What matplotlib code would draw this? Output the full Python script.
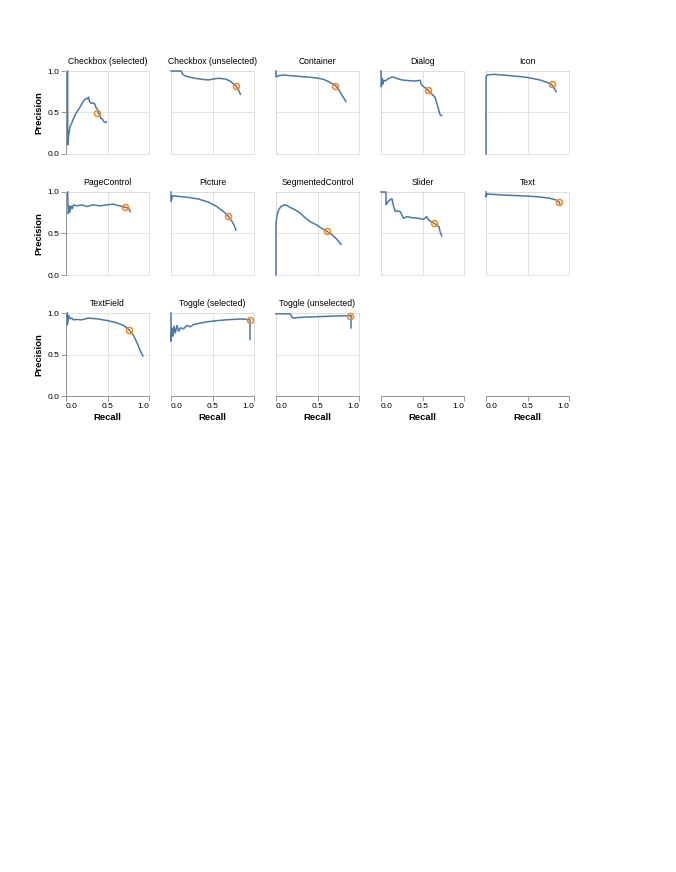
import matplotlib
matplotlib.use("Agg")
import matplotlib.pyplot as plt

plt.rcParams['font.family'] = ['Liberation Sans', 'DejaVu Sans']

# PR curves per class: (recall, precision), plus the chosen operating point
classes = ['Checkbox (selected)', 'Checkbox (unselected)', 'Container', 'Dialog', 'Icon',
           'PageControl', 'Picture', 'SegmentedControl', 'Slider', 'Text',
           'TextField', 'Toggle (selected)', 'Toggle (unselected)']

recall = {
    'Checkbox (selected)': [0.02, 0.02, 0.032, 0.048, 0.068, 0.088, 0.12, 0.16, 0.20, 0.228, 0.248, 0.26, 0.272,
                            0.284, 0.304, 0.328, 0.348, 0.36, 0.376, 0.388, 0.408, 0.42, 0.44, 0.456, 0.48, 0.488],
    'Checkbox (unselected)': [0.0, 0.124, 0.14, 0.172, 0.232, 0.292, 0.372, 0.452, 0.49, 0.572, 0.652, 0.712,
                              0.752, 0.784, 0.812, 0.836],
    'Container': [0.0, 0.0, 0.032, 0.092, 0.212, 0.372, 0.492, 0.572, 0.632, 0.716, 0.752, 0.792, 0.844],
    'Dialog': [0.0, 0.004, 0.012, 0.02, 0.032, 0.052, 0.092, 0.14, 0.192, 0.252, 0.332, 0.412, 0.472, 0.484,
               0.512, 0.564, 0.592, 0.632, 0.652, 0.672, 0.692, 0.712, 0.732],
    'Icon': [0.0, 0.0, 0.012, 0.092, 0.29, 0.49, 0.65, 0.73, 0.79, 0.845],
    'PageControl': [0.02, 0.028, 0.04, 0.048, 0.06, 0.077, 0.089, 0.13, 0.19, 0.25, 0.33, 0.41, 0.49, 0.57,
                    0.633, 0.706, 0.754, 0.774],
    'Picture': [0.0, 0.0, 0.02, 0.092, 0.212, 0.332, 0.452, 0.552, 0.632, 0.684, 0.732, 0.764, 0.78],
    'SegmentedControl': [0.0, 0.0, 0.012, 0.032, 0.06, 0.1, 0.132, 0.172, 0.232, 0.292, 0.352, 0.412, 0.492,
                         0.552, 0.612, 0.672, 0.732, 0.784],
    'Slider': [0.0, 0.06, 0.06, 0.092, 0.132, 0.152, 0.172, 0.192, 0.232, 0.252, 0.272, 0.312, 0.372, 0.452,
               0.512, 0.552, 0.572, 0.636, 0.672, 0.70, 0.712, 0.732],
    'Text': [0.0, 0.0, 0.012, 0.214, 0.415, 0.617, 0.758, 0.839, 0.883, 0.89],
    'TextField': [0.016, 0.016, 0.032, 0.048, 0.069, 0.089, 0.129, 0.19, 0.27, 0.371, 0.492, 0.613, 0.694,
                  0.758, 0.815, 0.863, 0.895, 0.927],
    'Toggle (selected)': [0.0, 0.0, 0.012, 0.024, 0.036, 0.052, 0.072, 0.092, 0.112, 0.152, 0.192, 0.232, 0.272,
                          0.312, 0.412, 0.532, 0.692, 0.852, 0.952, 0.952],
    'Toggle (unselected)': [0.0, 0.172, 0.2, 0.312, 0.512, 0.712, 0.892, 0.904, 0.904],
}

precision = {
    'Checkbox (selected)': [1.0, 0.11, 0.23, 0.33, 0.37, 0.42, 0.49, 0.55, 0.62, 0.66, 0.67, 0.665, 0.684,
                            0.63, 0.61, 0.616, 0.60, 0.56, 0.545, 0.50, 0.47, 0.43, 0.42, 0.39, 0.38, 0.385],
    'Checkbox (unselected)': [1.0, 1.0, 0.96, 0.94, 0.924, 0.912, 0.90, 0.892, 0.90, 0.912, 0.904, 0.88,
                              0.844, 0.82, 0.772, 0.72],
    'Container': [1.0, 0.93, 0.944, 0.952, 0.94, 0.928, 0.916, 0.90, 0.872, 0.824, 0.784, 0.712, 0.632],
    'Dialog': [1.0, 0.81, 0.91, 0.84, 0.89, 0.88, 0.91, 0.93, 0.91, 0.892, 0.884, 0.88, 0.888, 0.84,
               0.812, 0.772, 0.744, 0.704, 0.68, 0.612, 0.544, 0.472, 0.464],
    'Icon': [0.0, 0.93, 0.952, 0.96, 0.944, 0.924, 0.892, 0.864, 0.84, 0.752],
    'PageControl': [1.0, 0.74, 0.83, 0.76, 0.83, 0.80, 0.845, 0.833, 0.845, 0.825, 0.845, 0.833, 0.845, 0.854,
                    0.837, 0.817, 0.805, 0.764],
    'Picture': [1.0, 0.886, 0.955, 0.947, 0.935, 0.915, 0.878, 0.825, 0.764, 0.715, 0.65, 0.593, 0.54],
    'SegmentedControl': [0.0, 0.62, 0.72, 0.785, 0.825, 0.846, 0.837, 0.813, 0.785, 0.744, 0.69, 0.642, 0.602,
                         0.561, 0.528, 0.488, 0.431, 0.37],
    'Slider': [1.0, 1.0, 0.846, 0.894, 0.919, 0.825, 0.764, 0.772, 0.764, 0.724, 0.683, 0.703, 0.691, 0.683,
               0.671, 0.703, 0.663, 0.626, 0.602, 0.581, 0.52, 0.472],
    'Text': [1.0, 0.94, 0.976, 0.963, 0.955, 0.943, 0.927, 0.906, 0.878, 0.854],
    'TextField': [1.0, 0.857, 0.971, 0.93, 0.939, 0.918, 0.922, 0.918, 0.939, 0.93, 0.91, 0.882, 0.849,
                  0.80, 0.727, 0.624, 0.543, 0.482],
    'Toggle (selected)': [1.0, 0.66, 0.82, 0.72, 0.84, 0.76, 0.85, 0.78, 0.82, 0.81, 0.85, 0.834, 0.86,
                          0.87, 0.89, 0.906, 0.92, 0.928, 0.92, 0.68],
    'Toggle (unselected)': [0.99, 0.99, 0.94, 0.948, 0.956, 0.964, 0.968, 0.968, 0.82],
}

# operating point (orange circle)
op_recall = [0.376, 0.784, 0.716, 0.564, 0.79, 0.706, 0.684, 0.612, 0.636, 0.883, 0.758, 0.952, 0.892]
op_precision = [0.496, 0.82, 0.824, 0.772, 0.84, 0.817, 0.715, 0.528, 0.626, 0.878, 0.80, 0.92, 0.968]

ticks = [0.0, 0.5, 1.0]
tick_labels = ['0.0', '0.5', '1.0']

W, H = 676, 872
fig = plt.figure(figsize=(W / 100, H / 100), dpi=100)

left0, col_step, top0, row_step, size = 66, 105, 71, 121, 83
border = '#dddddd'
axis_col = '#888888'
blue = '#4c78a8'
orange = '#f58518'


def px_axes(x, y, w, h):
    return fig.add_axes([x / W, 1 - (y + h) / H, w / W, h / H])


def style_x(ax):
    ax.set_xticks(ticks)
    ax.set_xticklabels(tick_labels)
    labs = ax.get_xticklabels()
    labs[0].set_ha('left')
    labs[-1].set_ha('right')
    ax.tick_params(axis='x', length=3.5, width=0.6, color=axis_col, labelsize=6, pad=1.5,
                   labelcolor='#000000')
    ax.spines['bottom'].set_color(axis_col)
    ax.set_xlabel('Recall', fontsize=6.8, fontweight='bold', labelpad=2)


for i, name in enumerate(classes):
    r, c = divmod(i, 5)
    ax = px_axes(left0 + c * col_step, top0 + r * row_step, size, size)
    ax.set_xlim(0, 1)
    ax.set_ylim(0, 1)
    ax.set_xticks(ticks)
    ax.set_yticks(ticks)
    ax.grid(True, color=border, linewidth=0.6)
    ax.set_axisbelow(True)
    for sp in ax.spines.values():
        sp.set_color(border)
        sp.set_linewidth(0.6)
    ax.tick_params(length=0, labelbottom=False, labelleft=False)

    ax.plot(recall[name], precision[name], color=blue, linewidth=1.1, clip_on=False, zorder=3)
    ax.plot(op_recall[i], op_precision[i], 'o', markersize=4.3, markerfacecolor='none',
            markeredgecolor=orange, markeredgewidth=1.1, clip_on=False, zorder=4)
    ax.set_title(name, fontsize=6.2, pad=5)

    if c == 0:
        ax.set_yticklabels(tick_labels)
        ax.tick_params(axis='y', length=3.5, width=0.6, color=axis_col, labelleft=True,
                       labelsize=6, pad=1.5)
        ax.spines['left'].set_color(axis_col)
        ax.set_ylabel('Precision', fontsize=6.8, fontweight='bold', labelpad=3)
    if r == 2:
        ax.tick_params(axis='x', labelbottom=True)
        style_x(ax)

# bare x axes under the empty facets of the last row
for c in (3, 4):
    ax = px_axes(left0 + c * col_step, top0 + 2 * row_step, size, size)
    ax.set_xlim(0, 1)
    ax.set_ylim(0, 1)
    ax.patch.set_visible(False)
    for s in ('top', 'left', 'right'):
        ax.spines[s].set_visible(False)
    ax.spines['bottom'].set_linewidth(0.6)
    ax.set_yticks([])
    style_x(ax)

fig.savefig('out.png', dpi=100)
